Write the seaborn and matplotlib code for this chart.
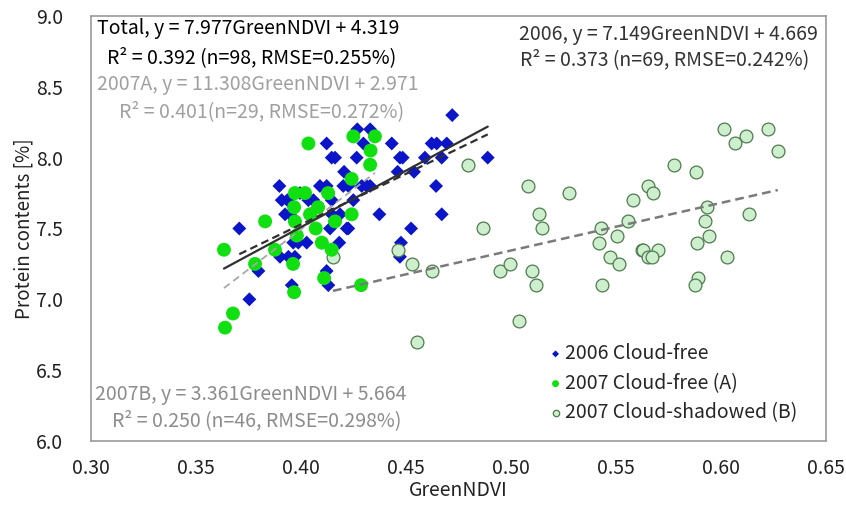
import numpy as np
import pandas as pd
import seaborn as sns
from matplotlib import pyplot as plt

# 2006 cloud-free (blue diamonds)
ndvi_2006 = [0.4122, 0.4146, 0.4162, 0.4205, 0.3897, 0.4090, 0.4122, 0.4201, 0.3908, 0.3935,
             0.4035, 0.4059, 0.4146, 0.3924, 0.3948, 0.4146, 0.4186, 0.3706, 0.4138, 0.4218,
             0.3963, 0.3987, 0.4027, 0.4182, 0.3900, 0.3940, 0.3971, 0.3797, 0.4122, 0.3956,
             0.4130, 0.3754, 0.4720, 0.4268, 0.4329, 0.4297, 0.4432, 0.4622, 0.4646, 0.4694,
             0.4265, 0.4471, 0.4484, 0.4590, 0.4670, 0.4889, 0.4460, 0.4538, 0.4225, 0.4289,
             0.4313, 0.4329, 0.4643, 0.4249, 0.4373, 0.4670, 0.4225, 0.4524, 0.4476, 0.4471,
             0.3995, 0.4129, 0.3967, 0.4081, 0.4043, 0.3971, 0.4162, 0.3980, 0.4099]
prot_2006 = [8.10, 8.00, 8.00, 7.90, 7.80, 7.80, 7.80, 7.80, 7.70, 7.70,
             7.70, 7.70, 7.70, 7.60, 7.60, 7.60, 7.60, 7.50, 7.50, 7.50,
             7.40, 7.40, 7.40, 7.40, 7.30, 7.30, 7.30, 7.20, 7.20, 7.10,
             7.10, 7.00, 8.30, 8.20, 8.20, 8.10, 8.10, 8.10, 8.10, 8.10,
             8.00, 8.00, 8.00, 8.00, 8.00, 8.00, 7.90, 7.90, 7.80, 7.80,
             7.80, 7.80, 7.80, 7.70, 7.60, 7.60, 7.50, 7.50, 7.40, 7.30,
             7.75, 7.75, 7.65, 7.65, 7.60, 7.55, 7.55, 7.45, 7.40]

# 2007 cloud-free (A)
ndvi_2007a = [0.4035, 0.4249, 0.4352, 0.4331, 0.4329, 0.4241, 0.3971, 0.4019, 0.4129, 0.3967,
              0.4081, 0.4043, 0.3829, 0.3971, 0.4162, 0.3980, 0.4099, 0.3633, 0.3876, 0.4146,
              0.3962, 0.3781, 0.4110, 0.3967, 0.3676, 0.3638, 0.4241, 0.4286, 0.4070]
prot_2007a = [8.10, 8.15, 8.15, 8.05, 7.95, 7.85, 7.75, 7.75, 7.75, 7.65,
              7.65, 7.60, 7.55, 7.55, 7.55, 7.45, 7.40, 7.35, 7.35, 7.35,
              7.25, 7.25, 7.15, 7.05, 6.90, 6.80, 7.60, 7.10, 7.50]

# 2007 cloud-shadowed (B)
ndvi_2007b = [0.4152, 0.4797, 0.4868, 0.4463, 0.4527, 0.4622, 0.4948, 0.4995, 0.4552, 0.5082,
              0.5276, 0.5579, 0.5133, 0.5146, 0.5427, 0.5556, 0.5503, 0.5420, 0.5622, 0.5471,
              0.5516, 0.5098, 0.5119, 0.5431, 0.5040, 0.6014, 0.6225, 0.6118, 0.6067, 0.6270,
              0.5778, 0.5881, 0.5654, 0.5674, 0.5932, 0.6135, 0.5924, 0.5944, 0.5887, 0.5630,
              0.5701, 0.5654, 0.5670, 0.6030, 0.5892, 0.5876]
prot_2007b = [7.30, 7.95, 7.50, 7.35, 7.25, 7.20, 7.20, 7.25, 6.70, 7.80,
              7.75, 7.70, 7.60, 7.50, 7.50, 7.55, 7.45, 7.40, 7.35, 7.30,
              7.25, 7.20, 7.10, 7.10, 6.85, 8.20, 8.20, 8.15, 8.10, 8.05,
              7.95, 7.90, 7.80, 7.75, 7.65, 7.60, 7.55, 7.45, 7.40, 7.35,
              7.35, 7.30, 7.30, 7.30, 7.15, 7.10]

# regression lines (slope, intercept) from the fitted equations
fit_total = (7.977, 4.319)
fit_2006 = (7.149, 4.669)
fit_2007a = (11.308, 2.971)
fit_2007b = (3.361, 5.664)

sns.set_theme(style='white')
plt.rcParams['font.family'] = ['Noto Sans CJK JP', 'DejaVu Sans']

fig = plt.figure(figsize=(8.46, 5.15), dpi=100)
ax = fig.add_axes([0.1076, 0.1437, 0.8688, 0.8253])

sns.scatterplot(x=ndvi_2006, y=prot_2006, marker='D', s=50, color='#0A14C8',
                edgecolor='none', label='2006 Cloud-free', ax=ax, zorder=3)
sns.scatterplot(x=ndvi_2007a, y=prot_2007a, marker='o', s=100, color='#10E010',
                edgecolor='none', label='2007 Cloud-free (A)', ax=ax, zorder=4)
sns.scatterplot(x=ndvi_2007b, y=prot_2007b, marker='o', s=85, color='#CDEFCD',
                edgecolor='#4E7A4E', linewidth=0.9, label='2007 Cloud-shadowed (B)', ax=ax, zorder=3)

def draw_fit(fit, xs, **kw):
    xr = np.array([min(xs), max(xs)])
    ax.plot(xr, fit[0] * xr + fit[1], **kw)

draw_fit(fit_2007b, ndvi_2007b, color='#7A7A7A', lw=1.8, ls=(0, (3.5, 2)), zorder=5)
draw_fit(fit_2007a, ndvi_2007a, color='#A8A8A8', lw=1.3, ls=(0, (4, 2.5)), zorder=5)
draw_fit(fit_2006, ndvi_2006, color='#303030', lw=1.6, ls=(0, (3.5, 2)), zorder=6)
draw_fit(fit_total, ndvi_2006 + ndvi_2007a, color='#303030', lw=1.6, zorder=6)

ax.set_xlim(0.30, 0.65)
ax.set_ylim(6.0, 9.0)
ax.set_xticks(np.arange(0.30, 0.651, 0.05))
ax.set_yticks(np.arange(6.0, 9.01, 0.5))
ax.xaxis.set_major_formatter(plt.FormatStrFormatter('%.2f'))
ax.yaxis.set_major_formatter(plt.FormatStrFormatter('%.1f'))
ax.tick_params(axis='both', labelsize=14, colors='#222222', length=0)
ax.tick_params(axis='y', pad=20)
ax.tick_params(axis='x', pad=12)
for s in ax.spines.values():
    s.set_color('#9A9A9A')
    s.set_linewidth(1.2)

ax.set_xlabel('GreenNDVI', fontsize=14, color='#222222', labelpad=1)
ax.set_ylabel('Protein contents [%]', fontsize=13.5, color='#222222', labelpad=1)

tk = dict(transform=ax.transAxes, fontsize=14)
ax.text(0.008, 0.995, 'Total, y = 7.977GreenNDVI + 4.319', va='top', color='black', **tk)
ax.text(0.022, 0.927, 'R² = 0.392 (n=98, RMSE=0.255%)', va='top', color='black', **tk)
ax.text(0.008, 0.864, '2007A, y = 11.308GreenNDVI + 2.971', va='top', color='#A0A0A0', **tk)
ax.text(0.038, 0.800, 'R² = 0.401(n=29, RMSE=0.272%)', va='top', color='#A0A0A0', **tk)
ax.text(0.786, 0.957, '2006, y = 7.149GreenNDVI + 4.669', ha='center', va='center', color='#333333', **tk)
ax.text(0.781, 0.898, 'R² = 0.373 (n=69, RMSE=0.242%)', ha='center', va='center', color='#333333', **tk)
ax.text(0.006, 0.110, '2007B, y = 3.361GreenNDVI + 5.664', va='center', color='#8C8C8C', **tk)
ax.text(0.028, 0.048, 'R² = 0.250 (n=46, RMSE=0.298%)', va='center', color='#8C8C8C', **tk)

ax.legend(loc='lower right', bbox_to_anchor=(0.985, 0.0), frameon=False, fontsize=14,
          markerscale=0.5, handletextpad=0.0, handlelength=1.0, labelspacing=0.45)

fig.savefig('out.png', dpi=100)
